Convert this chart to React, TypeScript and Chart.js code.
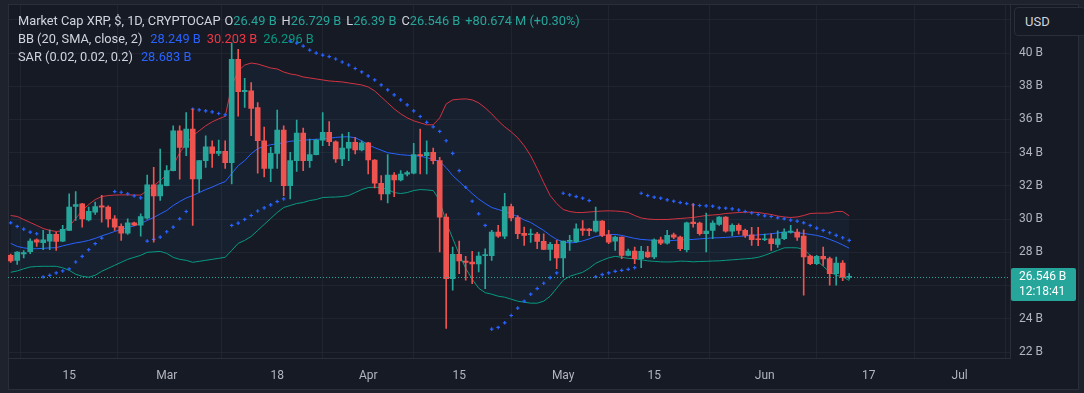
import React, { useEffect, useRef } from 'react';
import { Chart, registerables } from 'chart.js';

Chart.register(...registerables);

// ---- Data (values in billions USD), day index 0 = Feb 6 ----
const tickDays = [9, 24, 41, 55, 69, 85, 99, 116, 132, 146];
const tickLabels = ['15', 'Mar', '18', 'Apr', '15', 'May', '15', 'Jun', '17', 'Jul'];
const yTickValues = [22, 24, 26, 28, 30, 32, 34, 36, 38, 40, 42];

const opens = [
  27.82, 27.52, 27.90, 28.04, 28.76, 28.58, 28.68, 29.08, 28.68, 29.32,
  30.76, 30.92, 29.96, 30.42, 30.80, 30.72, 30.02, 29.56, 29.16, 29.78,
  29.64, 30.06, 32.06, 31.40, 32.02, 32.92, 35.32, 34.32, 35.42, 32.42,
  33.52, 34.36, 33.96, 34.08, 33.40, 39.62, 37.68, 37.72, 36.72, 34.72,
  33.06, 33.96, 35.36, 32.02, 33.52, 35.18, 33.52, 33.88, 34.76, 35.22,
  34.66, 33.62, 34.28, 34.62, 34.16, 34.60, 33.56, 32.16, 31.52, 32.66,
  32.36, 32.70, 32.76, 33.88, 33.82, 34.02, 33.52, 30.12, 26.42, 27.88,
  27.48, 27.42, 27.30, 27.80, 27.80, 29.22, 28.98, 30.76, 30.10, 29.14,
  29.06, 29.10, 28.66, 28.18, 28.48, 27.66, 28.66, 28.64, 29.42, 29.40,
  29.28, 29.88, 29.06, 28.68, 28.92, 27.82, 28.08, 27.62, 28.02, 27.72,
  28.76, 28.56, 29.06, 28.92, 28.16, 29.82, 29.76, 29.12, 29.32, 29.68,
  30.12, 29.28, 29.62, 29.32, 29.06, 28.82, 28.76, 28.82, 28.48, 28.82,
  29.22, 29.22, 28.98, 27.78, 27.32, 27.76, 27.62, 26.72, 27.36, 26.49,
];
const highs = [
  27.90, 28.05, 28.10, 28.82, 28.82, 29.32, 29.36, 29.22, 29.62, 31.52,
  31.66, 30.95, 30.72, 31.02, 31.44, 30.80, 30.22, 29.72, 30.02, 29.82,
  30.32, 32.66, 33.12, 34.22, 33.22, 35.62, 35.62, 36.42, 36.62, 33.52,
  35.02, 34.72, 34.76, 34.72, 40.62, 40.22, 38.48, 38.22, 37.02, 35.54,
  34.32, 36.56, 35.62, 34.02, 35.96, 35.48, 34.82, 34.80, 36.42, 35.88,
  34.72, 35.12, 35.22, 34.92, 34.70, 34.62, 33.58, 32.62, 33.88, 32.80,
  32.92, 32.90, 34.56, 35.42, 34.72, 34.28, 33.72, 30.32, 28.32, 28.68,
  27.76, 28.06, 28.02, 28.22, 29.32, 29.62, 31.56, 30.90, 30.22, 29.52,
  29.40, 29.20, 29.12, 28.60, 28.72, 28.68, 29.02, 29.72, 29.92, 29.44,
  30.72, 29.92, 29.32, 28.98, 28.94, 28.20, 28.32, 28.36, 28.36, 28.82,
  28.92, 29.32, 29.16, 28.98, 29.82, 30.92, 29.82, 30.36, 29.90, 30.16,
  30.16, 29.72, 29.72, 29.40, 29.50, 29.50, 29.10, 29.12, 29.30, 29.42,
  29.62, 29.40, 29.36, 27.84, 27.82, 28.32, 27.72, 27.72, 27.50, 26.729,
];
const lows = [
  27.40, 27.28, 27.66, 27.92, 28.36, 28.16, 28.16, 28.12, 28.64, 29.30,
  29.92, 29.52, 29.90, 30.28, 29.82, 29.52, 29.32, 28.72, 29.08, 29.60,
  28.98, 30.00, 28.62, 31.12, 32.00, 32.90, 32.40, 33.82, 29.62, 31.62,
  33.12, 33.12, 33.82, 33.06, 32.12, 36.20, 36.72, 35.02, 32.76, 32.54,
  32.26, 33.06, 31.42, 31.22, 32.88, 32.92, 33.12, 33.86, 34.42, 34.42,
  33.42, 33.22, 33.52, 33.92, 34.10, 32.72, 31.88, 31.16, 30.98, 31.36,
  32.30, 32.60, 32.72, 32.72, 32.72, 33.32, 28.02, 23.42, 25.72, 26.72,
  26.32, 26.12, 26.82, 25.82, 27.52, 28.90, 28.82, 29.90, 28.82, 28.42,
  28.60, 28.22, 28.16, 27.52, 27.02, 26.52, 28.12, 28.60, 29.02, 29.00,
  29.22, 28.95, 28.52, 28.12, 27.62, 27.78, 27.32, 27.08, 27.68, 27.62,
  28.46, 28.50, 28.82, 28.10, 28.02, 29.52, 29.04, 28.02, 28.82, 29.62,
  29.22, 29.00, 29.10, 28.90, 28.42, 28.40, 28.70, 28.12, 28.30, 28.76,
  29.16, 28.72, 25.42, 27.26, 27.26, 27.22, 26.02, 26.02, 26.30, 26.39,
];
const closes = [
  27.48, 28.02, 27.98, 28.68, 28.62, 28.76, 29.08, 28.66, 29.38, 30.72,
  30.88, 30.02, 30.47, 30.76, 30.72, 30.02, 29.52, 29.16, 29.78, 29.64,
  30.16, 32.06, 31.40, 32.06, 32.92, 35.32, 34.32, 35.42, 32.42, 33.52,
  34.36, 33.96, 34.08, 33.40, 39.62, 37.68, 37.76, 36.66, 34.72, 33.06,
  33.96, 35.36, 32.02, 33.52, 35.18, 33.52, 33.88, 34.76, 35.22, 34.66,
  33.62, 34.28, 34.62, 34.16, 34.60, 33.56, 32.16, 31.52, 32.66, 32.36,
  32.72, 32.80, 33.88, 33.82, 34.02, 33.52, 30.12, 26.42, 27.88, 27.48,
  27.40, 27.30, 27.78, 27.84, 29.22, 28.98, 30.76, 30.07, 29.12, 29.02,
  29.08, 28.66, 28.18, 28.48, 27.66, 28.68, 28.72, 29.42, 29.32, 29.30,
  29.88, 29.02, 28.62, 28.92, 27.82, 28.08, 27.62, 28.06, 27.72, 28.76,
  28.56, 29.02, 28.92, 28.22, 29.78, 29.72, 29.12, 29.28, 29.76, 30.12,
  29.28, 29.62, 29.32, 29.02, 28.76, 28.76, 28.82, 28.52, 28.82, 29.22,
  29.26, 28.92, 27.72, 27.32, 27.76, 27.60, 26.72, 27.36, 26.49, 26.546,
];

const bbUpper = [
  30.22, 30.16, 29.98, 29.80, 29.62, 29.44, 29.32, 29.26, 29.29, 29.56,
  30.04, 30.52, 30.88, 31.18, 31.36, 31.42, 31.45, 31.46, 31.46, 31.45,
  31.45, 31.72, 32.02, 32.32, 32.68, 33.22, 34.00, 34.54, 35.02, 35.32,
  35.62, 35.86, 36.04, 36.19, 38.02, 38.92, 39.28, 39.40, 39.34, 39.22,
  39.10, 39.04, 38.86, 38.74, 38.68, 38.56, 38.50, 38.44, 38.38, 38.32,
  38.29, 38.26, 38.20, 38.14, 38.08, 37.96, 37.72, 37.36, 37.00, 36.64,
  36.34, 36.10, 35.92, 35.80, 35.68, 35.68, 36.10, 36.94, 37.18, 37.22,
  37.24, 37.18, 37.00, 36.70, 36.34, 35.92, 35.56, 35.26, 34.90, 34.42,
  33.82, 33.04, 32.20, 31.42, 30.94, 30.58, 30.46, 30.40, 30.40, 30.43,
  30.46, 30.49, 30.50, 30.49, 30.46, 30.40, 30.22, 30.07, 30.01, 29.98,
  29.98, 29.98, 30.01, 30.04, 30.07, 30.10, 30.16, 30.22, 30.25, 30.28,
  30.34, 30.37, 30.40, 30.42, 30.42, 30.40, 30.34, 30.28, 30.19, 30.13,
  30.10, 30.13, 30.22, 30.34, 30.36, 30.36, 30.37, 30.46, 30.46, 30.20,
];
const bbBasis = [
  28.54, 28.36, 28.27, 28.22, 28.22, 28.24, 28.27, 28.28, 28.39, 28.48,
  28.57, 28.63, 28.72, 28.84, 28.99, 29.12, 29.26, 29.38, 29.50, 29.59,
  29.74, 29.92, 30.10, 30.31, 30.52, 30.82, 31.06, 31.27, 31.42, 31.60,
  31.78, 31.93, 32.11, 32.26, 32.74, 33.22, 33.52, 33.94, 34.24, 34.39,
  34.48, 34.54, 34.60, 34.69, 34.72, 34.75, 34.78, 34.81, 34.82, 34.87,
  34.92, 34.95, 34.96, 34.90, 34.72, 34.48, 34.30, 34.15, 34.00, 33.94,
  33.88, 33.85, 33.82, 33.79, 33.70, 33.61, 33.46, 33.10, 32.62, 32.26,
  31.90, 31.54, 31.21, 30.94, 30.70, 30.58, 30.46, 30.31, 30.16, 29.95,
  29.80, 29.56, 29.32, 29.02, 28.78, 28.63, 28.57, 28.60, 28.69, 28.81,
  28.96, 29.02, 29.06, 29.08, 29.02, 28.93, 28.84, 28.78, 28.75, 28.72,
  28.68, 28.69, 28.72, 28.75, 28.76, 28.78, 28.81, 28.84, 28.87, 28.88,
  28.90, 28.93, 28.96, 28.99, 29.02, 29.05, 29.08, 29.12, 29.17, 29.22,
  29.22, 29.18, 29.14, 29.08, 29.02, 28.93, 28.78, 28.63, 28.45, 28.25,
];
const bbLower = [
  26.80, 26.88, 27.01, 27.12, 27.15, 27.16, 27.16, 27.16, 27.07, 26.92,
  26.68, 26.56, 26.50, 26.62, 26.86, 27.04, 27.22, 27.40, 27.58, 27.70,
  27.82, 28.00, 28.03, 28.06, 27.94, 27.70, 27.58, 27.52, 27.40, 27.46,
  27.52, 27.58, 27.64, 27.70, 28.12, 28.54, 28.72, 28.96, 29.32, 29.68,
  30.04, 30.40, 30.70, 30.82, 30.94, 31.00, 31.12, 31.18, 31.30, 31.32,
  31.33, 31.36, 31.42, 31.60, 31.78, 31.90, 31.92, 31.90, 31.78, 31.60,
  31.54, 31.60, 31.72, 31.78, 31.76, 31.72, 31.12, 29.80, 28.84, 27.88,
  27.04, 26.38, 25.84, 25.57, 25.48, 25.36, 25.30, 25.18, 25.06, 25.00,
  24.94, 24.94, 25.06, 25.36, 25.84, 26.32, 26.56, 26.68, 26.80, 27.04,
  27.34, 27.52, 27.67, 27.76, 27.70, 27.64, 27.61, 27.55, 27.49, 27.46,
  27.43, 27.42, 27.43, 27.47, 27.46, 27.43, 27.45, 27.46, 27.48, 27.49,
  27.52, 27.55, 27.58, 27.61, 27.64, 27.70, 27.82, 27.97, 28.12, 28.27,
  28.28, 28.27, 28.18, 27.82, 27.52, 27.16, 26.82, 26.62, 26.53, 26.30,
];
const sarValues: (number | null)[] = [
  29.78, 29.56, 29.40, 29.22, 29.12, 26.52, 26.62, 26.76, 26.88, 27.00,
  27.42, 27.76, 28.16, 28.52, 28.86, null, 31.66, 31.62, 31.52, 31.40,
  31.28, 28.68, 28.78, 28.92, 29.24, 29.52, 30.02, 30.46, 36.62, 36.58,
  36.52, 36.46, 36.36, 36.28, 29.62, 29.76, 29.98, 30.22, 30.49, 30.68,
  30.86, 31.06, 31.22, 40.72, 40.60, 40.42, 40.18, 40.00, 39.88, 39.79,
  39.64, 39.46, 39.28, 39.07, 38.86, 38.62, 38.38, 38.08, 37.78, 37.48,
  37.18, 36.88, 36.52, 36.18, 35.83, 35.56, 35.28, 34.72, 33.96, 32.92,
  31.92, 31.08, 30.32, 29.62, 23.38, 23.48, 23.76, 24.20, 24.64, 25.06,
  25.48, 25.82, 26.14, 26.48, 26.76, 31.56, 31.46, 31.36, 31.26, 31.12,
  26.53, 26.66, 26.76, 26.86, 26.92, 26.98, 27.08, 31.56, 31.42, 31.32,
  31.26, 31.16, 31.08, 31.00, 30.94, 30.86, 30.82, 30.80, 30.78, 30.68,
  30.66, 30.62, 30.55, 30.46, 30.38, 30.28, 30.20, 30.16, 30.08, 30.02,
  29.94, 29.88, 29.78, 29.62, 29.46, 29.32, 29.18, 29.02, 28.88, 28.72,
];

// ---- Styles ----
const BG = '#161a25';
const OUTER = '#1e222d';
const UP = '#26a69a';
const DOWN = '#ef5350';
const TEXT = '#b2b5be';
const GRID = 'rgba(42,46,57,0.55)';
const FONT = 'Roboto, "Noto Sans", sans-serif';

export default function App() {
  const ref = useRef<HTMLCanvasElement>(null);

  useEffect(() => {
    document.body.style.margin = '0';
    document.body.style.background = OUTER;
    const canvas = ref.current;
    if (!canvas) return;
    const idx = closes.map((_, i) => i);
    const colors = idx.map((i) => (closes[i] >= opens[i] ? UP : DOWN));
    const bodies = idx.map((i) => ({ x: i, y: [opens[i], closes[i]] }));
    const wicks = idx.map((i) => ({ x: i, y: [lows[i], highs[i]] }));
    const pts = (arr: (number | null)[]) => arr.map((v, i) => ({ x: i, y: v }));
    const lastClose = closes[closes.length - 1];

    const framePlugin = {
      id: 'frame',
      beforeDraw(chart: any) {
        const c = chart.ctx;
        c.save();
        c.fillStyle = OUTER;
        c.fillRect(0, 0, chart.width, chart.height);
        c.fillStyle = BG;
        c.fillRect(8, 4, 1071, 386);
        c.strokeStyle = '#2a2e39';
        c.lineWidth = 1;
        c.strokeRect(8.5, 4.5, 1070, 385);
        c.restore();
      },
      afterDatasetsDraw(chart: any) {
        const c = chart.ctx;
        const y = Math.round(chart.scales.y.getPixelForValue(lastClose)) + 0.5;
        const a = chart.chartArea;
        c.save();
        c.strokeStyle = UP;
        c.lineWidth = 1;
        c.setLineDash([1, 2]);
        c.beginPath();
        c.moveTo(a.left, y);
        c.lineTo(a.right, y);
        c.stroke();
        c.restore();
      },
      afterDraw(chart: any) {
        const c = chart.ctx;
        const y = chart.scales.y.getPixelForValue(lastClose);
        const a = chart.chartArea;
        c.save();
        c.fillStyle = UP;
        const bx = a.right + 1;
        const by = Math.round(y) - 9;
        c.beginPath();
        c.roundRect(bx, by, 65, 33, 2);
        c.fill();
        c.fillStyle = '#ffffff';
        c.font = `12px ${FONT}`;
        c.textBaseline = 'middle';
        c.textAlign = 'left';
        c.fillText(lastClose.toFixed(3) + ' B', bx + 8, by + 9);
        c.fillText('12:18:41', bx + 8, by + 24);
        c.restore();
      },
    };

    const chart = new Chart(canvas, {
      type: 'bar',
      data: {
        datasets: [
          {
            type: 'line',
            data: pts(bbUpper),
            borderColor: 'rgba(242,54,69,0.85)',
            borderWidth: 1,
            pointRadius: 0,
            fill: '+2',
            backgroundColor: 'rgba(33,150,243,0.05)',
            order: 6,
          },
          {
            type: 'line',
            data: pts(bbBasis),
            borderColor: '#2962ff',
            borderWidth: 1,
            pointRadius: 0,
            fill: false,
            order: 5,
          },
          {
            type: 'line',
            data: pts(bbLower),
            borderColor: '#089981',
            borderWidth: 1,
            pointRadius: 0,
            fill: false,
            order: 5,
          },
          {
            type: 'line',
            data: pts(sarValues),
            showLine: false,
            pointStyle: 'cross',
            pointRadius: 1.8,
            pointBorderWidth: 1.2,
            pointBorderColor: '#2962ff',
            borderColor: '#2962ff',
            order: 4,
          },
          {
            type: 'bar',
            data: wicks,
            backgroundColor: colors,
            barThickness: 1,
            grouped: false,
            order: 3,
          },
          {
            type: 'bar',
            data: bodies,
            backgroundColor: colors,
            barThickness: 5,
            minBarLength: 1,
            grouped: false,
            order: 2,
          },
        ] as any,
      },
      options: {
        responsive: false,
        animation: false,
        devicePixelRatio: 1,
        layout: { padding: { left: 8, top: 4, right: 5, bottom: 3 } },
        plugins: { legend: { display: false }, tooltip: { enabled: false } },
        scales: {
          x: {
            type: 'linear',
            min: -0.415,
            max: 153.74,
            offset: false,
            afterBuildTicks: (s: any) => {
              s.ticks = tickDays.map((v) => ({ value: v }));
            },
            afterFit: (s: any) => {
              s.height = 32;
              s.paddingLeft = 0;
              s.paddingRight = 0;
              s.paddingTop = 0;
              s.paddingBottom = 0;
            },
            ticks: {
              autoSkip: false,
              maxRotation: 0,
              color: TEXT,
              font: { family: FONT, size: 12 },
              padding: 11,
              callback: (v: any) => {
                const k = tickDays.indexOf(Number(v));
                return k >= 0 ? tickLabels[k] : '';
              },
            },
            grid: { color: GRID, drawTicks: false },
            border: { display: true, color: '#2a2e39' },
          },
          y: {
            type: 'linear',
            position: 'right',
            min: 21.64,
            max: 42.88,
            afterBuildTicks: (s: any) => {
              s.ticks = yTickValues.map((v) => ({ value: v }));
            },
            afterFit: (s: any) => {
              s.width = 69;
              s.paddingLeft = 0;
              s.paddingRight = 0;
              s.paddingTop = 0;
              s.paddingBottom = 0;
            },
            ticks: {
              color: TEXT,
              font: { family: FONT, size: 12 },
              padding: 9,
              callback: (v: any) => (Number(v) >= 42 ? '' : `${v} B`),
            },
            grid: { color: GRID, drawTicks: false },
            border: { display: true, color: '#2a2e39' },
          },
        },
      },
      plugins: [framePlugin],
    });
    return () => chart.destroy();
  }, []);

  const label: React.CSSProperties = { color: '#d1d4dc' };
  const gap = (c: string, ml = 6): React.CSSProperties => ({ color: c, marginLeft: ml });

  return (
    <div
      style={{
        position: 'relative',
        width: 1084,
        height: 393,
        background: OUTER,
        overflow: 'hidden',
        fontFamily: FONT,
      }}
    >
      <canvas ref={ref} width={1084} height={393} style={{ position: 'absolute', left: 0, top: 0, width: 1084, height: 393 }} />
      <div style={{ position: 'absolute', left: 18, top: 12, fontSize: 12.8, lineHeight: '18px', whiteSpace: 'nowrap' }}>
        <div>
          <span style={label}>Market Cap XRP, $, 1D, CRYPTOCAP</span>
          <span style={gap('#d1d4dc', 4)}>O</span>
          <span style={{ color: UP }}>26.49 B</span>
          <span style={gap('#d1d4dc', 5)}>H</span>
          <span style={{ color: UP }}>26.729 B</span>
          <span style={gap('#d1d4dc', 5)}>L</span>
          <span style={{ color: UP }}>26.39 B</span>
          <span style={gap('#d1d4dc', 5)}>C</span>
          <span style={{ color: UP }}>26.546 B</span>
          <span style={gap(UP, 5)}>+80.674 M (+0.30%)</span>
        </div>
        <div>
          <span style={label}>BB (20, SMA, close, 2)</span>
          <span style={gap('#2962ff', 8)}>28.249 B</span>
          <span style={gap('#f23645')}>30.203 B</span>
          <span style={gap('#089981')}>26.296 B</span>
        </div>
        <div>
          <span style={label}>SAR (0.02, 0.02, 0.2)</span>
          <span style={gap('#2962ff', 8)}>28.683 B</span>
        </div>
      </div>
      <div
        style={{
          position: 'absolute',
          left: 1014,
          top: 7,
          width: 60,
          height: 27,
          border: '1px solid #2a2e39',
          borderRadius: 4,
          background: BG,
          color: '#d1d4dc',
          fontSize: 13,
          lineHeight: '27px',
          paddingLeft: 10,
          boxSizing: 'content-box',
        }}
      >
        USD
      </div>
    </div>
  );
}
